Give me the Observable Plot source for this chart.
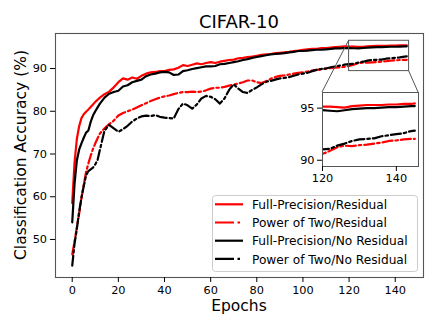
<!DOCTYPE html>
<html><head><meta charset="utf-8">
<script src="https://cdn.jsdelivr.net/npm/d3@7"></script>
<script src="https://cdn.jsdelivr.net/npm/@observablehq/plot@0.6"></script>
<style>
body{margin:0;background:#fff;}
#wrap{position:relative;width:439px;height:329px;font-family:"DejaVu Sans",sans-serif;}
#wrap svg{position:absolute;left:0;top:0;}
</style></head><body><div id="wrap"></div>
<script>
const title = "CIFAR-10";
const xLabel = "Epochs";
const yLabel = "Classification Accuracy (%)";
const seriesNames = ["Full-Precision/Residual","Power of Two/Residual","Full-Precision/No Residual","Power of Two/No Residual"];
const xTicks = [0,20,40,60,80,100,120,140];
const yTicks = [50,60,70,80,90];
const insetX = [120,146];
const insetY = [89.4,96.5];
const insetXTicks = [120,140];
const insetYTicks = [90,95];

const epochs = [0,1,2,3,4,5,6,7,8,9,10,11,12,
 14,16,18,20,22,24,26,28,30,32,
 34,36,38,40,42,44,46,48,50,52,
 54,56,58,60,62,64,66,68,70,72,
 74,76,78,80,82,84,86,88,90,92,
 94,96,98,100,102,104,106,108,110,112,
 114,116,118,120,122,124,126,128,130,132,
 134,136,138,140,142,144,145];

const fpRes = [58.5,68,73.5,76.5,78.4,79.3,79.9,80.4,81,81.6,82.2,82.7,83.2,
 84.0,84.6,85.6,86.8,87.7,87.4,87.9,87.6,88.3,88.8,
 89.1,89.2,89.4,89.4,89.7,89.8,90.2,90.8,90.6,90.9,
 91.2,91.0,91.3,91.5,91.3,91.6,91.8,92.0,92.1,92.4,
 92.5,92.7,92.8,93.0,93.2,93.3,93.4,93.6,93.7,93.8,
 93.9,94.1,94.2,94.4,94.5,94.6,94.6,94.8,94.8,94.9,
 95.0,95.1,95.2,95.15,95.15,95.1,95.05,95.2,95.25,95.3,
 95.3,95.3,95.35,95.35,95.4,95.4,95.45];

const potRes = [46.5,49.5,52.8,56,59.6,62.8,65.8,67.8,69.6,71.2,72.5,73.7,74.8,
 76.0,77.0,77.8,79.0,79.6,80.0,80.4,80.9,81.4,81.9,
 82.4,82.8,83.2,83.5,83.7,84.0,84.3,84.5,84.5,84.6,
 84.5,84.6,84.9,85.3,85.5,85.5,85.7,86.0,86.2,86.5,
 86.8,87.2,87.2,86.8,86.6,87.0,87.6,88.0,88.3,88.4,
 88.6,88.8,89.0,89.1,89.3,89.5,89.7,89.8,90.0,90.1,
 90.2,90.3,90.4,90.6,90.9,91.25,91.4,91.35,91.45,91.5,
 91.6,91.7,91.85,91.9,92.0,92.05,92.05];

const fpNoRes = [54,63,68.5,71,72.5,73.8,75,75.5,77.5,79,80,80.9,81.8,
 83.2,84.1,84.5,84.8,85.8,86.1,86.8,87.1,87.4,88.2,
 88.6,88.8,89.1,89.2,89.1,88.5,88.6,89.4,89.6,89.9,
 90.1,90.3,90.5,90.5,90.6,91.0,91.1,91.3,91.5,91.7,
 92.0,92.2,92.5,92.7,92.9,93.1,93.3,93.4,93.5,93.6,
 93.8,93.9,94.1,94.1,94.2,94.3,94.4,94.4,94.5,94.6,
 94.7,94.7,94.8,94.8,94.75,94.7,94.8,94.9,94.95,95.0,
 95.0,95.05,95.1,95.1,95.15,95.2,95.2];

const potNoRes = [43.9,49,52.5,56.5,59.8,62.5,65,66,66.4,66.8,67.6,68.6,71,
 75.5,76.8,76.0,75.2,75.8,76.6,77.6,78.3,78.8,79.0,
 78.9,79.1,78.7,78.5,78.4,78.3,80.5,81.8,81.4,80.6,
 81.6,83.0,83.6,83.4,82.8,81.8,83.0,85.0,86.3,85.3,
 84.5,84.3,85.0,85.6,86.3,86.9,87.1,87.4,87.7,87.8,
 88.0,88.3,88.6,88.8,89.0,89.4,89.7,89.9,90.0,90.3,
 90.5,90.7,90.9,91.05,91.1,91.4,91.6,91.85,92.0,92.05,
 92.1,92.3,92.4,92.5,92.6,92.8,92.85];

const seriesValues = [fpRes, potRes, fpNoRes, potNoRes];
const styles = [
  {color:"#ff0000", dash:null},
  {color:"#ff0000", dash:"10,3,2.5,3"},
  {color:"#000000", dash:null},
  {color:"#000000", dash:"10,3,2.5,3"}
];

const rows = seriesNames.flatMap((n, k) => epochs.map((e, i) => ({epoch: e, acc: seriesValues[k][i], name: n})));

function lineMarks(clip) {
  return seriesNames.map((n, k) => Plot.line(rows.filter(r => r.name === n), {
    x: "epoch", y: "acc", stroke: styles[k].color, strokeWidth: 2.2,
    strokeDasharray: styles[k].dash || undefined, strokeLinejoin: "round", clip
  }));
}

const font = {fontFamily: "DejaVu Sans", fontSize: "11.3px", background: "transparent", overflow: "visible", color: "#000"};
const frameColor = "#555";

const main = Plot.plot({
  width: 439, height: 329,
  marginLeft: 55, marginRight: 16, marginTop: 33, marginBottom: 52,
  style: font,
  x: {domain: [-7.25, 152.25]},
  y: {domain: [41.1, 98.2]},
  marks: [
    ...lineMarks(false),
    Plot.rect([{x1: insetX[0], x2: insetX[1], y1: insetY[0], y2: insetY[1]}], {x1: "x1", x2: "x2", y1: "y1", y2: "y2", fill: "none", stroke: frameColor, strokeWidth: 1}),
    Plot.frame({stroke: frameColor, strokeWidth: 1.1}),
    Plot.axisX({ticks: xTicks, tickSize: 5, tickPadding: 3.5, label: null}),
    Plot.axisY({ticks: yTicks, tickSize: 5, tickPadding: 3.5, label: null})
  ]
});

const inL = 40, inT = 6, inW = 96, inH = 74;
const insetLeft = 322 - inL, insetTop = 92 - inT;
const inset = Plot.plot({
  width: inW + inL + 6, height: inH + inT + 22,
  marginLeft: inL, marginRight: 6, marginTop: inT, marginBottom: 22,
  style: font,
  x: {domain: insetX},
  y: {domain: insetY},
  marks: [
    Plot.frame({fill: "white", stroke: null}),
    ...lineMarks(true),
    Plot.frame({stroke: frameColor, strokeWidth: 1}),
    Plot.axisX({ticks: insetXTicks, tickSize: 5, tickPadding: 2.5, label: null}),
    Plot.axisY({ticks: insetYTicks, tickSize: 5, tickPadding: 3, label: null})
  ]
});
inset.style.left = insetLeft + "px";
inset.style.top = insetTop + "px";

const wrap = document.getElementById("wrap");
wrap.appendChild(main);
wrap.appendChild(inset);

// connector lines from zoom box to inset
const mx = main.scale("x"), my = main.scale("y");
const ix = inset.scale("x"), iy = inset.scale("y");
const ms = d3.select(main);
const conns = [
  [mx.apply(insetX[0]), my.apply(insetY[1]), insetLeft + ix.apply(insetX[0]), insetTop + iy.apply(insetY[1])],
  [mx.apply(insetX[1]), my.apply(insetY[0]), insetLeft + ix.apply(insetX[1]), insetTop + iy.apply(insetY[1])]
];
conns.forEach(c => ms.append("line").attr("x1", c[0]).attr("y1", c[1]).attr("x2", c[2]).attr("y2", c[3])
  .attr("stroke", frameColor).attr("stroke-width", 1));

// texts
const cx = (55 + 439 - 16) / 2;
ms.append("text").attr("x", cx).attr("y", 28).attr("text-anchor", "middle")
  .attr("font-size", 18).attr("fill", "#000").text(title);
ms.append("text").attr("x", cx).attr("y", 311).attr("text-anchor", "middle")
  .attr("font-size", 15.5).attr("fill", "#000").text(xLabel);
ms.append("text").attr("transform", `translate(25.5,${(33 + 277) / 2}) rotate(-90)`).attr("text-anchor", "middle")
  .attr("font-size", 15.5).attr("fill", "#000").text(yLabel);

// legend overlay
const ov = d3.select(wrap).append("svg").attr("width", 439).attr("height", 329)
  .style("font-family", "DejaVu Sans").style("pointer-events", "none");
const lg = ov.append("g");
lg.append("rect").attr("x", 212.5).attr("y", 195.5).attr("width", 205).attr("height", 76).attr("rx", 3)
  .attr("fill", "white").attr("fill-opacity", 0.8).attr("stroke", "#cccccc").attr("stroke-width", 1);
seriesNames.forEach((n, k) => {
  const y = 204.3 + k * 18.2;
  lg.append("line").attr("x1", 215).attr("x2", 243).attr("y1", y).attr("y2", y)
    .attr("stroke", styles[k].color).attr("stroke-width", 2.2)
    .attr("stroke-dasharray", styles[k].dash ? "19,3.5,2.5,20" : null);
  lg.append("text").attr("x", 252).attr("y", y + 4.6).attr("font-size", 12.2).attr("fill", "#000").text(n);
});
</script></body></html>
